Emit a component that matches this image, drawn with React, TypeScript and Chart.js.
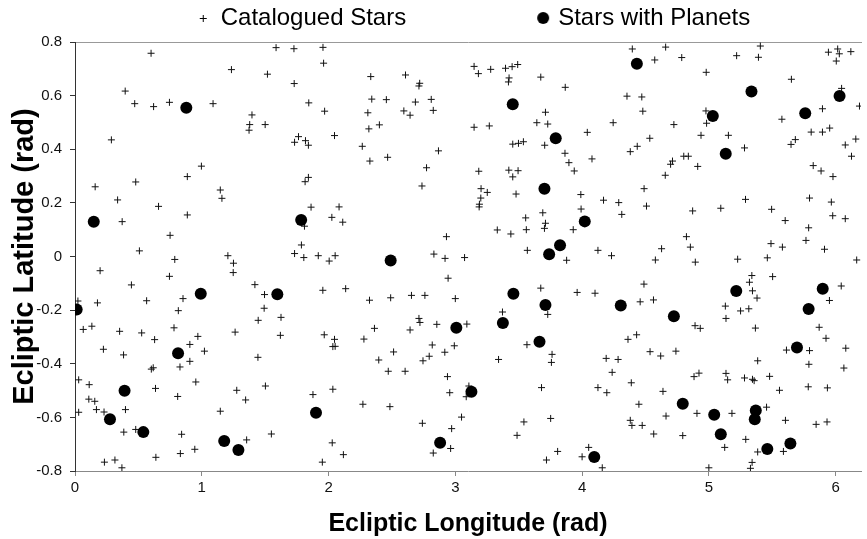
import React, { useEffect, useRef } from 'react';
import { Chart, registerables } from 'chart.js';

Chart.register(...registerables);

const seriesNames = ['Catalogued Stars', 'Stars with Planets'];
const xTitle = 'Ecliptic Longitude (rad)';
const yTitle = 'Ecliptic Latitude (rad)';
const xRange = [0, 6.2];
const yRange = [-0.8, 0.8];
const xStep = 1;
const yStep = 0.2;

// [ecliptic longitude, ecliptic latitude] in radians
const cataloguedStars: [number, number][] = [
  [0.60, 0.758], [1.234, 0.697], [1.518, 0.680], [0.396, 0.617], [0.471, 0.570], [0.620, 0.559],
  [0.745, 0.575], [1.089, 0.570], [1.396, 0.528], [1.378, 0.492], [1.373, 0.471], [1.500, 0.492],
  [0.287, 0.435], [0.997, 0.337], [0.886, 0.298], [0.159, 0.260], [0.479, 0.278], [1.146, 0.248],
  [1.159, 0.217], [0.336, 0.211], [0.659, 0.187], [0.886, 0.155], [0.372, 0.130], [0.750, 0.079],
  [0.508, 0.021], [0.787, -0.011], [1.206, 0.003],
  [1.586, 0.779], [1.727, 0.775], [1.956, 0.780], [1.961, 0.721], [1.729, 0.645], [2.333, 0.671],
  [2.607, 0.677], [2.719, 0.646], [2.713, 0.636], [1.844, 0.573], [1.969, 0.542], [2.341, 0.587],
  [2.456, 0.585], [2.310, 0.536], [2.685, 0.576], [2.810, 0.586], [2.594, 0.543], [2.643, 0.527],
  [2.826, 0.545], [2.318, 0.476], [2.401, 0.491], [2.047, 0.451], [1.763, 0.447], [1.732, 0.426],
  [1.818, 0.432], [1.841, 0.415], [2.266, 0.411], [2.326, 0.356], [2.466, 0.370], [2.867, 0.394],
  [2.773, 0.331], [2.737, 0.263], [1.841, 0.295], [1.815, 0.279], [1.862, 0.184], [2.083, 0.185],
  [2.026, 0.146], [2.112, 0.128], [1.810, 0.113], [1.786, 0.043], [1.732, 0.011], [1.805, -0.004],
  [1.919, 0.003], [2.052, 0.003], [2.930, 0.074], [2.831, 0.009], [2.919, -0.007], [3.073, -0.004],
  [4.396, 0.774], [4.573, 0.733], [3.148, 0.709], [3.182, 0.682], [3.279, 0.698], [3.396, 0.702],
  [3.448, 0.708], [3.492, 0.716], [3.424, 0.666], [3.419, 0.651], [3.674, 0.669], [3.867, 0.631],
  [4.354, 0.598], [4.471, 0.595], [4.479, 0.542], [3.711, 0.538], [3.643, 0.499], [3.729, 0.494],
  [3.148, 0.482], [3.268, 0.487], [4.245, 0.499], [4.041, 0.463], [4.534, 0.441], [3.453, 0.419],
  [3.498, 0.422], [3.537, 0.428], [3.705, 0.415], [4.435, 0.411], [4.380, 0.391], [3.865, 0.385],
  [3.896, 0.350], [3.938, 0.319], [4.078, 0.364], [3.185, 0.318], [3.422, 0.322], [3.495, 0.320],
  [3.453, 0.297], [3.203, 0.253], [3.252, 0.239], [3.479, 0.233], [3.201, 0.218], [3.190, 0.195],
  [3.188, 0.185], [3.990, 0.231], [4.169, 0.210], [4.289, 0.201], [4.489, 0.253], [4.508, 0.188],
  [4.313, 0.157], [3.992, 0.177], [3.690, 0.163], [3.555, 0.144], [3.711, 0.124], [3.703, 0.105],
  [3.331, 0.099], [3.438, 0.084], [3.560, 0.100], [3.930, 0.100], [3.568, 0.023], [4.125, 0.023],
  [4.232, 0.003], [4.627, 0.029],
  [4.659, 0.781], [4.786, 0.742], [5.406, 0.785], [5.219, 0.749], [5.391, 0.743], [5.943, 0.762],
  [6.016, 0.774], [6.029, 0.756], [6.120, 0.764], [6.005, 0.729], [4.979, 0.687], [5.651, 0.661],
  [6.047, 0.627], [6.188, 0.561], [4.977, 0.543], [5.896, 0.551], [5.576, 0.512], [4.724, 0.492],
  [4.982, 0.497], [4.938, 0.452], [5.154, 0.452], [5.807, 0.464], [5.896, 0.464], [5.953, 0.479],
  [5.682, 0.436], [5.648, 0.418], [6.076, 0.416], [6.159, 0.438], [6.125, 0.374], [5.281, 0.405],
  [4.802, 0.374], [4.838, 0.374], [4.713, 0.356], [4.698, 0.344], [4.912, 0.336], [4.656, 0.303],
  [5.823, 0.339], [5.885, 0.319], [5.979, 0.298], [5.289, 0.213], [5.794, 0.218], [5.966, 0.203],
  [4.872, 0.170], [5.094, 0.180], [5.495, 0.176], [5.602, 0.134], [5.977, 0.152], [6.076, 0.141],
  [5.787, 0.107], [4.823, 0.074], [4.854, 0.035], [5.490, 0.048], [5.580, 0.035], [5.766, 0.060],
  [5.912, 0.027], [5.227, -0.010], [5.461, -0.005],
  [1.250, -0.025], [1.248, -0.060], [0.198, -0.053], [0.745, -0.074], [0.445, -0.106], [1.419, -0.105],
  [1.495, -0.142], [1.492, -0.193], [1.445, -0.238], [0.565, -0.165], [0.852, -0.157], [0.177, -0.173],
  [0.023, -0.166], [0.815, -0.202], [0.065, -0.272], [0.133, -0.260], [0.352, -0.279], [0.526, -0.285],
  [0.781, -0.266], [0.628, -0.310], [0.969, -0.298], [0.906, -0.328], [1.263, -0.282], [0.224, -0.346],
  [0.383, -0.367], [1.021, -0.353], [1.443, -0.376], [0.617, -0.415], [0.602, -0.420], [0.828, -0.412],
  [0.906, -0.391], [0.029, -0.460], [0.112, -0.478], [0.635, -0.492], [0.953, -0.468], [0.810, -0.522],
  [1.276, -0.499], [1.346, -0.535], [1.502, -0.483], [0.109, -0.532], [0.156, -0.540], [0.169, -0.571],
  [0.229, -0.580], [0.398, -0.571], [0.029, -0.581], [1.146, -0.577], [0.385, -0.655], [0.479, -0.645],
  [0.841, -0.663], [1.354, -0.684], [0.945, -0.719], [0.831, -0.735], [0.638, -0.749], [0.232, -0.767],
  [0.315, -0.759], [0.370, -0.788],
  [2.005, -0.017], [2.943, -0.081], [1.625, -0.227], [1.620, -0.294], [1.955, -0.126], [2.135, -0.120],
  [2.323, -0.163], [2.490, -0.154], [2.654, -0.145], [2.760, -0.145], [3.000, -0.157], [2.713, -0.231],
  [2.721, -0.246], [2.643, -0.274], [2.854, -0.253], [2.362, -0.268], [2.279, -0.308], [1.966, -0.292],
  [2.047, -0.309], [2.034, -0.336], [2.052, -0.335], [2.513, -0.356], [2.396, -0.386], [2.471, -0.428],
  [2.604, -0.428], [2.818, -0.330], [2.794, -0.372], [2.745, -0.389], [2.917, -0.357], [2.992, -0.333],
  [2.938, -0.448], [2.956, -0.508], [1.877, -0.515], [2.034, -0.495], [2.271, -0.551], [2.484, -0.560],
  [1.549, -0.662], [2.029, -0.695], [2.117, -0.739], [1.951, -0.767], [2.740, -0.622], [2.971, -0.642],
  [3.049, -0.599], [2.826, -0.733], [2.963, -0.716],
  [3.878, -0.014], [4.488, -0.103], [4.458, -0.169], [4.563, -0.162], [3.674, -0.118], [3.961, -0.134],
  [4.102, -0.137], [3.372, -0.207], [3.729, -0.216], [3.091, -0.252], [3.565, -0.329], [3.763, -0.365],
  [3.758, -0.395], [3.341, -0.384], [4.362, -0.309], [4.430, -0.292], [4.536, -0.355], [4.620, -0.371],
  [4.190, -0.380], [4.284, -0.384], [4.237, -0.432], [3.107, -0.483], [3.086, -0.523], [3.680, -0.489],
  [4.125, -0.489], [4.195, -0.508], [4.388, -0.471], [4.638, -0.503], [4.448, -0.551], [3.541, -0.617],
  [3.752, -0.604], [3.487, -0.667], [4.380, -0.611], [4.393, -0.630], [4.474, -0.630], [4.565, -0.662],
  [3.807, -0.727], [3.719, -0.759], [4.052, -0.712], [4.000, -0.747], [4.159, -0.788],
  [4.578, -0.013], [4.893, -0.021], [6.166, -0.013], [5.339, -0.071], [5.320, -0.096], [5.503, -0.075],
  [5.344, -0.128], [5.380, -0.155], [6.044, -0.110], [5.951, -0.164], [5.130, -0.185], [5.250, -0.203],
  [5.315, -0.195], [5.135, -0.231], [4.891, -0.258], [4.932, -0.268], [5.367, -0.267], [5.870, -0.264],
  [5.924, -0.305], [5.612, -0.349], [5.794, -0.351], [6.080, -0.342], [4.740, -0.353], [5.385, -0.389],
  [5.789, -0.402], [6.065, -0.416], [4.883, -0.448], [4.922, -0.435], [5.135, -0.436], [5.148, -0.460],
  [5.281, -0.453], [5.344, -0.458], [5.357, -0.463], [5.479, -0.447], [5.557, -0.499], [5.784, -0.486],
  [5.935, -0.490], [4.662, -0.595], [4.906, -0.585], [5.182, -0.585], [5.455, -0.562], [5.604, -0.611],
  [5.846, -0.626], [5.932, -0.617], [4.794, -0.668], [5.291, -0.682], [5.125, -0.712], [5.385, -0.729],
  [5.588, -0.727], [5.341, -0.768], [5.328, -0.790], [5.000, -0.788],
];

const starsWithPlanets: [number, number][] = [
  [0.878, 0.555], [0.148, 0.130], [1.784, 0.136], [2.490, -0.015], [4.432, 0.719], [3.453, 0.568],
  [3.792, 0.441], [3.703, 0.253], [4.021, 0.131], [3.826, 0.042], [3.740, 0.008], [5.336, 0.615],
  [6.031, 0.599], [5.031, 0.524], [5.760, 0.534], [5.133, 0.383], [0.992, -0.139], [0.013, -0.198],
  [0.813, -0.361], [0.391, -0.501], [0.276, -0.607], [0.539, -0.655], [1.177, -0.688], [1.289, -0.722],
  [1.596, -0.141], [3.008, -0.266], [1.901, -0.583], [2.880, -0.695], [3.458, -0.139], [3.711, -0.181],
  [4.305, -0.183], [3.375, -0.248], [3.664, -0.318], [3.127, -0.504], [4.096, -0.748], [5.216, -0.129],
  [5.898, -0.120], [5.787, -0.196], [4.724, -0.223], [5.695, -0.339], [4.794, -0.549], [5.042, -0.590],
  [5.370, -0.574], [5.362, -0.607], [5.094, -0.663], [5.461, -0.718], [5.643, -0.697],
];

const PAGE_W = 867;
const PAGE_H = 539;
const OFFSET = 42; // canvas extends left of the visible page so the legend sits where the reference has it
const CANVAS_W = PAGE_W + OFFSET;
const LEGEND_FONT = 24;
const LEGEND_BOX = 134;
const SANS = '"Liberation Sans", Arial, sans-serif';

function makeIcon(kind: 'cross' | 'dot'): HTMLCanvasElement {
  const c = document.createElement('canvas');
  c.width = LEGEND_BOX + 20;
  c.height = 20;
  const g = c.getContext('2d')!;
  g.strokeStyle = '#000';
  g.fillStyle = '#000';
  g.lineWidth = 1;
  if (kind === 'cross') {
    const cx = LEGEND_BOX - 6 + 10;
    g.beginPath();
    g.moveTo(cx - 3, 10.5);
    g.lineTo(cx + 4, 10.5);
    g.moveTo(cx + 0.5, 7);
    g.lineTo(cx + 0.5, 14);
    g.stroke();
  } else {
    const cx = LEGEND_BOX - 3 + 10;
    g.beginPath();
    g.arc(cx, 10, 6, 0, Math.PI * 2);
    g.fill();
  }
  return c;
}

export default function App() {
  const ref = useRef<HTMLCanvasElement | null>(null);

  useEffect(() => {
    document.body.style.margin = '0';
    const canvas = ref.current;
    if (!canvas) return;
    Chart.defaults.font.family = SANS;
    const crossIcon = makeIcon('cross');
    const dotIcon = makeIcon('dot');

    const chart = new Chart(canvas, {
      type: 'scatter',
      data: {
        datasets: [
          {
            label: seriesNames[0],
            data: cataloguedStars.map(([x, y]) => ({ x, y })),
            pointStyle: 'cross',
            pointRadius: 3.5,
            borderColor: '#111',
            backgroundColor: '#111',
            borderWidth: 1,
            xAxisID: 'x',
            yAxisID: 'y',
            order: 2,
          },
          {
            label: seriesNames[1],
            data: starsWithPlanets.map(([x, y]) => ({ x, y })),
            pointStyle: 'circle',
            pointRadius: 6,
            borderWidth: 0,
            borderColor: '#000',
            backgroundColor: '#000',
            xAxisID: 'x',
            yAxisID: 'y',
            order: 1,
          },
        ],
      },
      options: {
        animation: false,
        responsive: false,
        maintainAspectRatio: false,
        events: [],
        layout: { padding: { top: 0, left: 0, right: 0, bottom: 0 } },
        plugins: {
          tooltip: { enabled: false },
          legend: {
            position: 'top',
            labels: {
              usePointStyle: true,
              pointStyleWidth: LEGEND_BOX,
              boxHeight: LEGEND_FONT,
              padding: 6,
              color: '#000',
              font: { size: LEGEND_FONT, family: SANS },
              generateLabels: () => [
                { text: seriesNames[0], pointStyle: crossIcon, fillStyle: '#000', strokeStyle: '#000', lineWidth: 0, hidden: false, datasetIndex: 0, fontColor: '#000' },
                { text: seriesNames[1], pointStyle: dotIcon, fillStyle: '#000', strokeStyle: '#000', lineWidth: 0, hidden: false, datasetIndex: 1, fontColor: '#000' },
              ] as any,
            },
          },
        },
        scales: {
          x: {
            type: 'linear',
            position: 'bottom',
            min: xRange[0],
            max: xRange[1],
            ticks: {
              stepSize: xStep,
              includeBounds: false,
              color: '#111',
              font: { size: 15, family: SANS },
              padding: 3,
            },
            grid: { drawOnChartArea: false, tickLength: 5, tickColor: '#888', color: '#888' },
            border: { color: '#888', width: 1 },
            title: {
              display: true,
              text: xTitle,
              color: '#000',
              font: { size: 25, weight: 'bold', family: SANS, lineHeight: 1 },
              padding: { top: 0, bottom: 2 },
            },
            afterFit: (s: any) => { s.height = PAGE_H - 471; },
          },
          xTop: {
            type: 'linear',
            position: 'top',
            min: xRange[0],
            max: xRange[1],
            ticks: { display: false },
            grid: { display: false, drawTicks: false },
            border: { display: true, color: '#999', width: 1 },
            afterFit: (s: any) => { s.height = 2; },
          },
          y: {
            type: 'linear',
            position: 'left',
            min: yRange[0],
            max: yRange[1],
            ticks: {
              stepSize: yStep,
              color: '#111',
              font: { size: 15, family: SANS },
              padding: 8,
            },
            grid: { drawOnChartArea: false, tickLength: 5, tickColor: '#333', color: '#333' },
            border: { color: '#333', width: 1 },
            title: {
              display: true,
              text: yTitle,
              color: '#000',
              font: { size: 29, weight: 'bold', family: SANS, lineHeight: 1 },
              padding: { top: 52, bottom: 0 },
            },
            afterFit: (s: any) => { s.width = 75 + OFFSET; },
          },
        },
      } as any,
    });
    return () => chart.destroy();
  }, []);

  return (
    <div style={{ width: PAGE_W, height: PAGE_H, position: 'relative', overflow: 'hidden', background: '#fff' }}>
      <canvas
        ref={ref}
        width={CANVAS_W}
        height={PAGE_H}
        style={{ position: 'absolute', left: -OFFSET, top: 0, width: CANVAS_W, height: PAGE_H }}
      />
    </div>
  );
}
